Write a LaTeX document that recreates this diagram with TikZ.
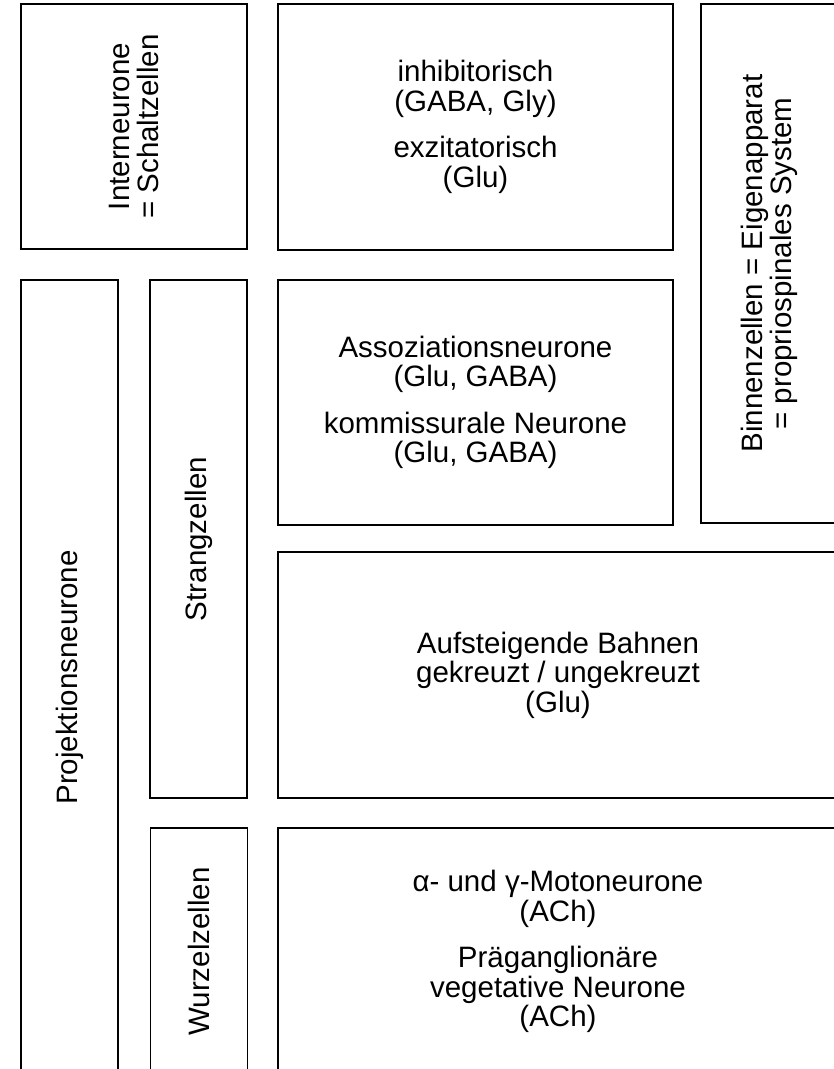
\documentclass[tikz,border=0pt]{standalone}
\usepackage{fontspec}
\setmainfont{Liberation Sans}
\usepackage{tikz}
\usetikzlibrary{positioning}

\begin{document}
\begin{tikzpicture}[x=1pt, y=-1pt,
    cell/.style={draw, line width=1.2pt, align=center, inner sep=0pt,
      font={\fontsize{29.5}{29.5}\selectfont}},
    vcell/.style={cell, rotate=90}]
    \useasboundingbox (0,0) rectangle (834,1069);
    \clip (0,0) rectangle (834,1069);

    % top row
    \node [vcell, minimum width=245pt, minimum height=226pt] (inter) at (134,126.5) {Interneurone\\= Schaltzellen};
    \node [cell, minimum width=395pt, minimum height=246pt] (inhib) at (475.5,127) {inhibitorisch\\(GABA, Gly)\\[17pt]exzitatorisch\\(Glu)};
    \node [vcell, minimum width=519pt, minimum height=137pt] (binnen) at (769.5,263.5) {Binnenzellen = Eigenapparat\\= propriospinales System};

    % left columns
    \node [vcell, minimum width=795pt, minimum height=97pt] (proj) at (69.5,677.5) {Projektionsneurone};
    \node [vcell, minimum width=518pt, minimum height=97pt] (strang) at (198.5,539) {Strangzellen};
    \node [vcell, minimum width=247pt, minimum height=97pt] (wurzel) at (199,951.5) {Wurzelzellen};

    % right column
    \node [cell, minimum width=395pt, minimum height=245pt] (assoz) at (475.5,402.5) {Assoziationsneurone\\(Glu, GABA)\\[17pt]kommissurale Neurone\\(Glu, GABA)};
    \node [cell, minimum width=560pt, minimum height=246pt] (aufst) at (558,675) {Aufsteigende Bahnen\\gekreuzt / ungekreuzt\\(Glu)};
    \node [cell, minimum width=560pt, minimum height=247pt] (moto) at (558,951.5) {α- und γ-Motoneurone\\(ACh)\\[17pt]Präganglionäre\\vegetative Neurone\\(ACh)};
\end{tikzpicture}
\end{document}
